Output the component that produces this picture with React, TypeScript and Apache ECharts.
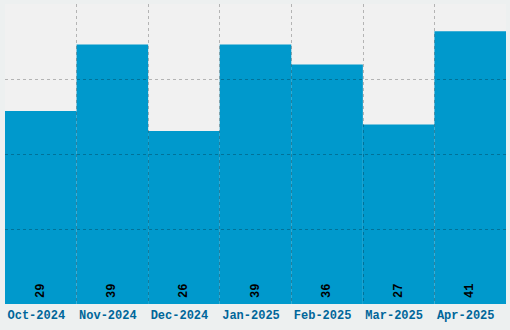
import React, { useEffect, useRef } from "react";
import * as echarts from "echarts";

const categories = ["Oct-2024", "Nov-2024", "Dec-2024", "Jan-2025", "Feb-2025", "Mar-2025", "Apr-2025"];
const values = [29, 39, 26, 39, 36, 27, 41];
const yMax = 45.1;

export default function App() {
  const ref = useRef<HTMLDivElement>(null);
  useEffect(() => {
    if (!ref.current) return;
    const chart = echarts.init(ref.current, undefined, { renderer: "svg" });
    const font = "'Liberation Mono', 'DejaVu Sans Mono', monospace";
    chart.setOption({
      animation: false,
      backgroundColor: "#edf0f0",
      grid: {
        left: 5,
        right: 4,
        top: 4,
        bottom: 26,
        show: true,
        backgroundColor: "#f1f1f1",
        borderWidth: 0,
      },
      xAxis: {
        type: "category",
        data: categories,
        z: 5,
        axisLine: { show: false },
        axisTick: { show: false },
        axisLabel: {
          color: "#00669a",
          fontFamily: font,
          fontWeight: "bold",
          fontSize: 12,
          margin: 6,
          interval: 0,
          padding: [0, 9, 0, 0],
        },
        splitLine: {
          show: true,
          interval: 0,
          showMinLine: false,
          showMaxLine: false,
          lineStyle: { color: "rgba(0,0,0,0.25)", type: [3, 3], width: 1 },
        },
      },
      yAxis: {
        type: "value",
        min: 0,
        max: yMax,
        interval: yMax / 4,
        z: 5,
        axisLine: { show: false },
        axisTick: { show: false },
        axisLabel: { show: false },
        splitLine: {
          show: true,
          showMinLine: false,
          showMaxLine: false,
          lineStyle: { color: "rgba(0,0,0,0.25)", type: [3, 3], width: 1 },
        },
      },
      series: [
        {
          type: "bar",
          data: values,
          barWidth: "100%",
          barCategoryGap: 0,
          itemStyle: { color: "#0099cc" },
          label: {
            show: true,
            position: "insideBottom",
            rotate: 90,
            align: "left",
            verticalAlign: "middle",
            distance: 6,
            color: "#000",
            fontFamily: font,
            fontWeight: "bold",
            fontSize: 12,
          },
        },
      ],
    });
    return () => chart.dispose();
  }, []);
  return (
    <div
      ref={ref}
      style={{ position: "fixed", left: 0, top: 0, width: 510, height: 330 }}
    />
  );
}
